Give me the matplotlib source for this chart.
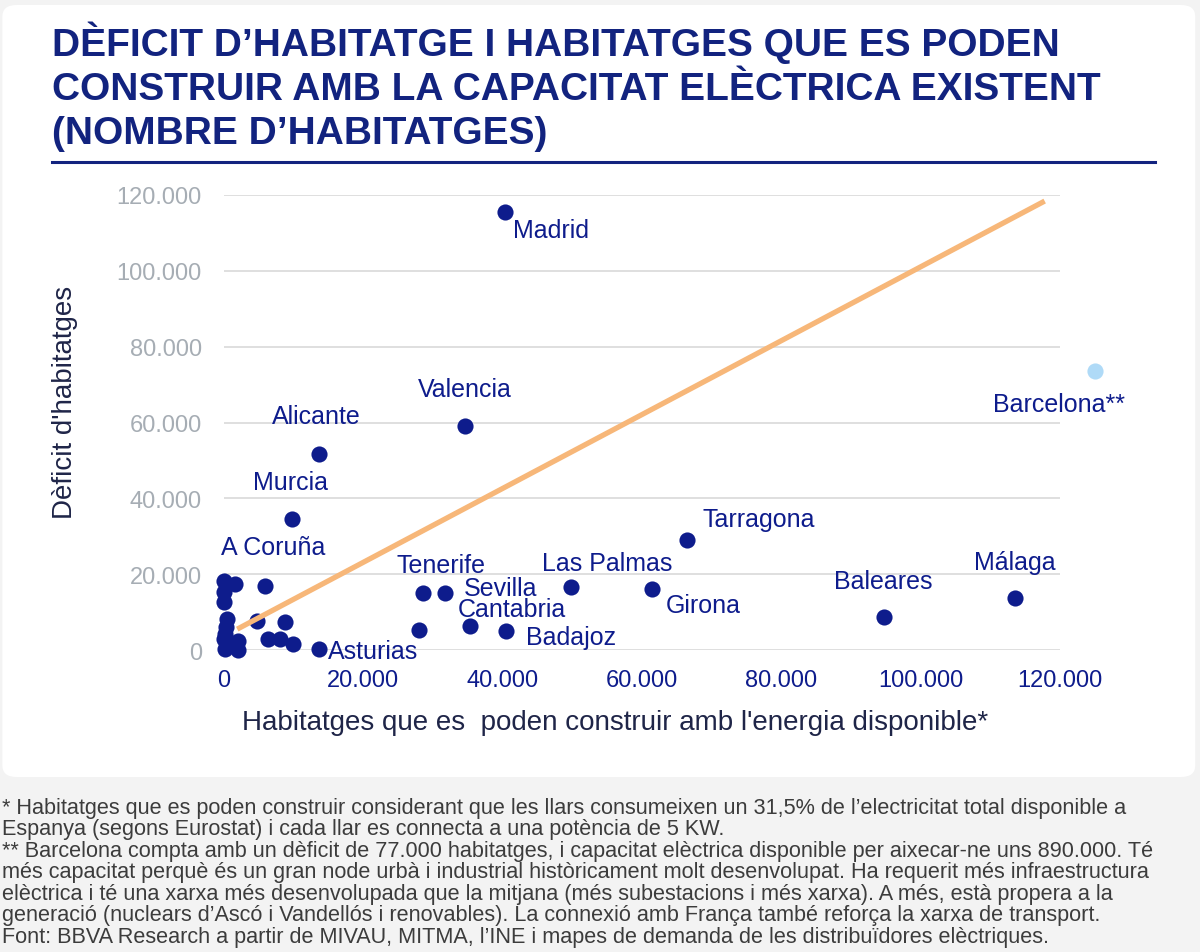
import matplotlib
matplotlib.use("Agg")
import matplotlib.pyplot as plt
from matplotlib.patches import FancyBboxPatch

plt.rcParams['font.family'] = ['Liberation Sans', 'DejaVu Sans']

# dades (llegides del gràfic)
names = ['Madrid', 'Valencia', 'Alicante', 'Murcia', 'A Coruña', 'Tenerife', 'Sevilla',
         'Cantabria', 'Badajoz', 'Asturias', 'Las Palmas', 'Girona', 'Tarragona',
         'Baleares', 'Málaga']
x_cap = [40300, 34600, 13600, 9800, 5900, 28600, 31700,
         35300, 40500, 13600, 49800, 61400, 66500,
         94700, 113500]
y_def = [115500, 59000, 51700, 34500, 16900, 15000, 15000,
         6300, 5000, 300, 16600, 16100, 29000,
         8700, 13700]

# províncies sense etiqueta
x_other = [0, 1600, 0, 0, 400, 4700, 8800, 150, 2000, 6300, 8000, 9900, 150, 2000, 1000, 0, 300, 28000]
y_other = [18200, 17400, 15300, 12700, 8200, 7600, 7400, 4200, 2400, 2900, 2900, 1600, 300, 0, 1500, 2900, 6000, 5300]

bcn_x = [125000]
bcn_y = [73600]

trend_x = [1900, 117800]
trend_y = [5500, 118400]

label_offsets = {
    'Madrid': (6, -13, 'left'), 'Valencia': (0, 27, 'center'), 'Alicante': (-2, 27, 'center'),
    'Murcia': (-1, 27, 'center'), 'A Coruña': (6, 28, 'center'), 'Tenerife': (13, 20, 'center'),
    'Sevilla': (14, 4, 'left'), 'Cantabria': (30, 12, 'center'), 'Badajoz': (14, -4, 'left'),
    'Asturias': (6.5, -1.5, 'left'), 'Las Palmas': (26, 17, 'center'), 'Girona': (10, -11.5, 'left'),
    'Tarragona': (11, 15, 'left'), 'Baleares': (0, 26, 'center'), 'Málaga': (0, 26, 'center'),
}

yticks = [0, 20000, 40000, 60000, 80000, 100000, 120000]
xticks = [0, 20000, 40000, 60000, 80000, 100000, 120000]


def fmt(v):
    return f"{v:,}".replace(",", ".")


NAVY = '#0E1C8C'
TITLE = '#12237F'

fig = plt.figure(figsize=(12, 9.53), dpi=100)
fig.patch.set_facecolor('#F3F3F3')
card = FancyBboxPatch((0.002, 1 - 778 / 953), 0.994, (778 - 6) / 953,
                      boxstyle="round,pad=0,rounding_size=0.012",
                      transform=fig.transFigure, facecolor='white', edgecolor='none', zorder=-10)
fig.add_artist(card)

ax = fig.add_axes([224 / 1200, 1 - 651 / 953, (1060 - 224) / 1200, (651 - 196) / 953])
ax.set_facecolor('none')
ax.set_xlim(0, 120000)
ax.set_ylim(0, 120000)
for s in ax.spines.values():
    s.set_visible(False)
ax.set_yticks(yticks)
ax.set_yticklabels([fmt(v) for v in yticks], color='#A6ADB4', fontsize=17)
ax.set_xticks(xticks)
ax.set_xticklabels([fmt(v) for v in xticks], color=NAVY, fontsize=17)
ax.tick_params(axis='y', length=0, pad=16)
ax.tick_params(axis='x', length=0, pad=14)
ax.yaxis.grid(True, color='#D9D9D9', lw=1.2)
ax.set_axisbelow(True)

ax.scatter(x_other, y_other, s=135, color=NAVY, zorder=3, clip_on=False, lw=0)
ax.scatter(x_cap, y_def, s=135, color=NAVY, zorder=3, clip_on=False, lw=0)
ax.scatter(bcn_x, bcn_y, s=135, color='#AFDAF7', zorder=3, clip_on=False, lw=0)
ax.plot(trend_x, trend_y, color='#F7B779', lw=3.8, solid_capstyle='butt', zorder=4)

for n, xv, yv in zip(names, x_cap, y_def):
    dx, dy, ha = label_offsets[n]
    ax.annotate(n, (xv, yv), xytext=(dx, dy), textcoords='offset points',
                ha=ha, va='center', fontsize=18, color=NAVY, zorder=5, annotation_clip=False)
ax.annotate('Barcelona**', (bcn_x[0], bcn_y[0]), xytext=(-26, -24), textcoords='offset points',
            ha='center', va='center', fontsize=18, color=NAVY, annotation_clip=False)

fig.text(65 / 1200, 1 - 402 / 953, "Dèficit d'habitatges", rotation=90, ha='center', va='center',
         fontsize=20, color='#1F2548')
fig.text(615 / 1200, 1 - 723 / 953, "Habitatges que es  poden construir amb l'energia disponible*",
         ha='center', va='center', fontsize=20, color='#1F2548')

title = ("DÈFICIT D’HABITATGE I HABITATGES QUE ES PODEN\n"
         "CONSTRUIR AMB LA CAPACITAT ELÈCTRICA EXISTENT\n"
         "(NOMBRE D’HABITATGES)")
fig.text(52 / 1200, 1 - 21 / 953, title, ha='left', va='top', fontsize=28, fontweight='bold',
         color=TITLE, linespacing=1.29)
fig.add_artist(plt.Line2D([52 / 1200, 1155 / 1200], [1 - 163 / 953] * 2,
                          transform=fig.transFigure, color=TITLE, lw=2.2))

notes = ("* Habitatges que es poden construir considerant que les llars consumeixen un 31,5% de l’electricitat total disponible a\n"
         "Espanya (segons Eurostat) i cada llar es connecta a una potència de 5 KW.\n"
         "** Barcelona compta amb un dèficit de 77.000 habitatges, i capacitat elèctrica disponible per aixecar-ne uns 890.000. Té\n"
         "més capacitat perquè és un gran node urbà i industrial històricament molt desenvolupat. Ha requerit més infraestructura\n"
         "elèctrica i té una xarxa més desenvolupada que la mitjana (més subestacions i més xarxa). A més, està propera a la\n"
         "generació (nuclears d’Ascó i Vandellós i renovables). La connexió amb França també reforça la xarxa de transport.\n"
         "Font: BBVA Research a partir de MIVAU, MITMA, l’INE i mapes de demanda de les distribuïdores elèctriques.")
fig.text(2 / 1200, 1 - 798 / 953, notes, ha='left', va='top', fontsize=15.6, color='#3C3C3C',
         linespacing=1.03)

fig.savefig('out.png', dpi=100, facecolor=fig.get_facecolor())
